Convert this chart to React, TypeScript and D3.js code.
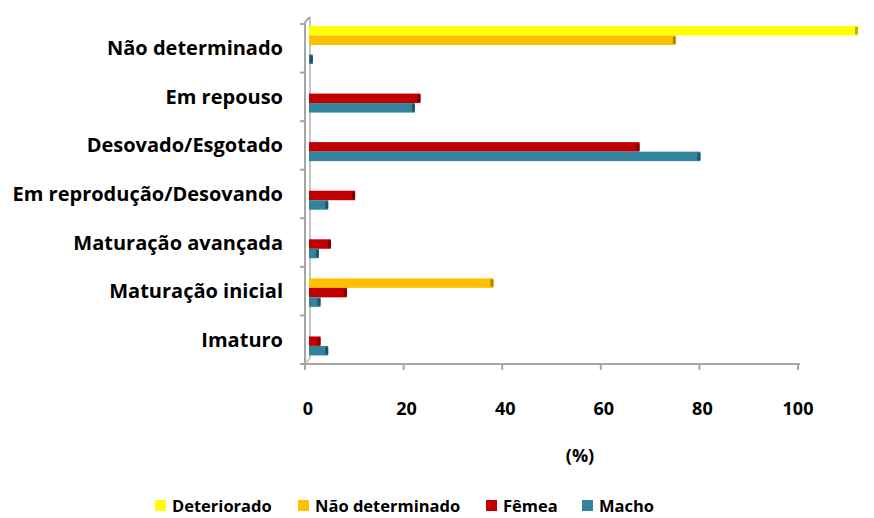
import React, { useEffect, useRef } from "react";
import * as d3 from "d3";

const categories = [
  "Não determinado",
  "Em repouso",
  "Desovado/Esgotado",
  "Em reprodução/Desovando",
  "Maturação avançada",
  "Maturação inicial",
  "Imaturo",
];
const series = ["Deteriorado", "Não determinado", "Fêmea", "Macho"];
const colors = ["#FFFF00", "#FFC000", "#C00000", "#31849B"];
const capColors = ["#B8B800", "#B08400", "#7A0000", "#1F5666"];

const deteriorado = [100, 0, 0, 0, 0, 0, 0];
const naoDeterminado = [66.8, 0, 0, 0, 0, 33.6, 0];
const femea = [0, 20.3, 60.2, 8.4, 4.0, 6.9, 2.1];
const macho = [0.7, 19.3, 71.3, 3.5, 1.8, 2.1, 3.5];
const values = [deteriorado, naoDeterminado, femea, macho];

const xTicks = [0, 20, 40, 60, 80, 100];

const FONT = "'Open Sans', Lato, sans-serif";

const App = () => {
  const svgRef = useRef<SVGSVGElement>(null);

  useEffect(() => {
    const svg = d3.select(svgRef.current);
    svg.selectAll("*").remove();

    // back plane (bars) and front floor (axis) scales of the 3D chart
    const xBars = d3.scaleLinear().domain([0, 100]).range([309, 858]);
    const xAxis = d3.scaleLinear().domain([0, 100]).range([305, 798]);
    const y = d3.scaleBand().domain(categories).range([24, 364]);
    const inner = d3.scaleBand().domain(series).range([2, 40]);

    const grey = "#a6a6a6";

    // walls
    svg.append("line").attr("x1", 305).attr("x2", 305).attr("y1", 22).attr("y2", 364)
      .attr("stroke", grey).attr("stroke-width", 2);
    svg.append("line").attr("x1", 310).attr("x2", 310).attr("y1", 17).attr("y2", 358)
      .attr("stroke", "#c4c4c4").attr("stroke-width", 2);
    svg.append("line").attr("x1", 305).attr("x2", 310).attr("y1", 22).attr("y2", 17)
      .attr("stroke", grey).attr("stroke-width", 2);
    svg.append("line").attr("x1", 305).attr("x2", 310).attr("y1", 364).attr("y2", 358)
      .attr("stroke", "#c4c4c4").attr("stroke-width", 1.5);

    // left ticks
    const yEdges = categories.map((c) => y(c)!).concat([364]);
    svg.append("g").selectAll("line").data(yEdges).enter().append("line")
      .attr("x1", 300).attr("x2", 305).attr("y1", (d) => d).attr("y2", (d) => d)
      .attr("stroke", grey).attr("stroke-width", 2);

    // bottom axis
    svg.append("line").attr("x1", 300).attr("x2", xAxis(100) + 2).attr("y1", 364).attr("y2", 364)
      .attr("stroke", grey).attr("stroke-width", 2);
    svg.append("g").selectAll("line").data(xTicks).enter().append("line")
      .attr("x1", (d) => xAxis(d)).attr("x2", (d) => xAxis(d)).attr("y1", 364).attr("y2", 370)
      .attr("stroke", grey).attr("stroke-width", 2);
    svg.append("g").selectAll("text").data(xTicks).enter().append("text")
      .attr("x", (d) => xAxis(d) + (d === 100 ? 0 : 3)).attr("y", 415)
      .attr("text-anchor", "middle")
      .attr("font-family", FONT).attr("font-weight", "bold").attr("font-size", 18)
      .text((d) => d);

    svg.append("text").attr("x", 580).attr("y", 462).attr("text-anchor", "middle")
      .attr("font-family", FONT).attr("font-weight", "bold").attr("font-size", 18)
      .text("(%)");

    // category labels
    svg.append("g").selectAll("text").data(categories).enter().append("text")
      .attr("x", 283).attr("y", (d) => y(d)! + y.bandwidth() / 2 + 7)
      .attr("text-anchor", "end")
      .attr("font-family", FONT).attr("font-weight", "bold").attr("font-size", 20)
      .text((d) => d);

    // bars
    series.forEach((s, si) => {
      const g = svg.append("g");
      const data = values[si].map((v, i) => ({ v, c: categories[i] })).filter((d) => d.v > 0);
      const h = inner.bandwidth();
      g.selectAll("rect.bar").data(data).enter().append("rect")
        .attr("class", "bar")
        .attr("x", xBars(0))
        .attr("y", (d) => y(d.c)! + inner(s)!)
        .attr("width", (d) => Math.max(1, xBars(d.v) - xBars(0)))
        .attr("height", h)
        .attr("fill", colors[si]);
      g.selectAll("rect.cap").data(data).enter().append("rect")
        .attr("class", "cap")
        .attr("x", (d) => Math.max(xBars(0), xBars(d.v) - 3))
        .attr("y", (d) => y(d.c)! + inner(s)! + 1)
        .attr("width", 3)
        .attr("height", h - 2)
        .attr("rx", 1)
        .attr("fill", capColors[si]);
    });

    // legend
    const legendX = [155, 298, 486, 582];
    const lg = svg.append("g");
    series.forEach((s, i) => {
      lg.append("rect").attr("x", legendX[i]).attr("y", 500).attr("width", 11).attr("height", 11)
        .attr("fill", colors[i]);
      lg.append("text").attr("x", legendX[i] + 17).attr("y", 512)
        .attr("font-family", FONT).attr("font-weight", "bold").attr("font-size", 16.5)
        .text(s);
    });
  }, []);

  return (
    <svg
      ref={svgRef}
      width={874}
      height={518}
      style={{ position: "absolute", left: 0, top: 0, background: "#fff" }}
    />
  );
};

export default App;
